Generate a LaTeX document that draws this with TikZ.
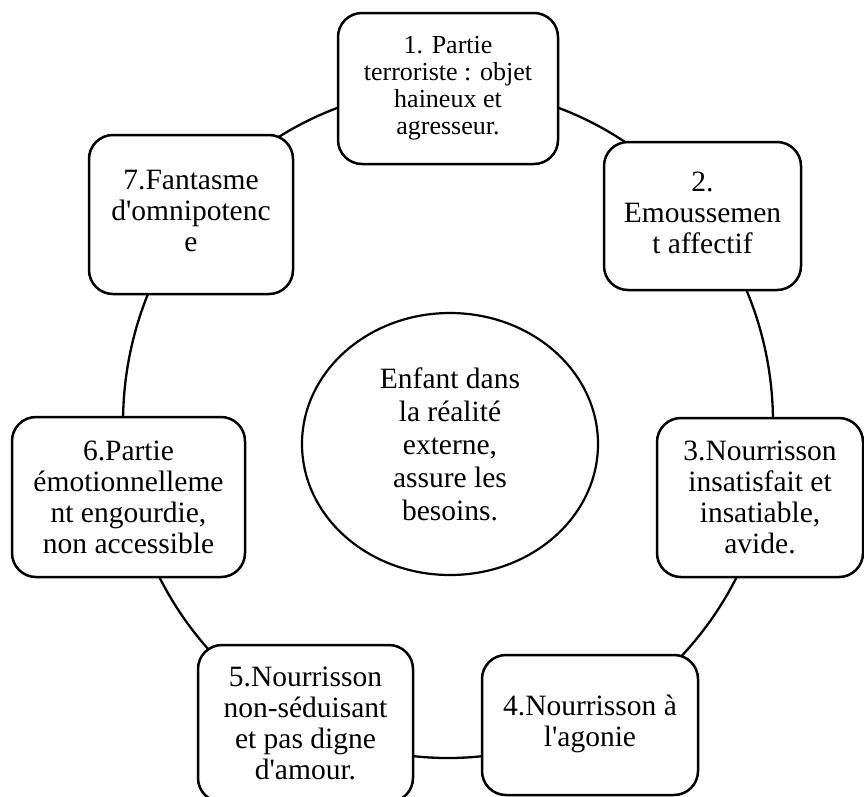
\documentclass[tikz,border=0pt]{standalone}
\usepackage{fontspec}
\setmainfont{Liberation Serif}[Ligatures=TeXOff]
\usetikzlibrary{shapes.geometric}
\begin{document}
\begin{tikzpicture}[x=1pt,y=-1pt,
  stepbox/.style={draw=black, line width=2.5pt, rounded corners=24pt, fill=white,
    align=center, inner sep=0pt, font=\fontsize{29.5}{31}\selectfont},
  hub/.style={draw=black, line width=2.2pt, ellipse, fill=white, align=center,
    inner sep=0pt, font=\fontsize{29.5}{33}\selectfont},
  ring/.style={draw=black, line width=2.3pt}]
\useasboundingbox (0,0) rectangle (864,796);
\coordinate (ringc) at (448,423);
\draw[ring] (ringc) ellipse [x radius=325, y radius=335];
\node[stepbox, minimum width=220pt, minimum height=151pt, font=\fontsize{26}{27}\selectfont] (b1) at (448,88.5)
  {1. Partie\\terroriste : objet\\haineux et\\agresseur.};
\node[stepbox, minimum width=197pt, minimum height=148pt] (b2) at (702.5,216)
  {\raisebox{5pt}{\begin{tabular}{@{}c@{}}2.\\Emoussemen\\t affectif\end{tabular}}};
\node[stepbox, minimum width=206pt, minimum height=159pt] (b3) at (760,497.5)
  {3.Nourrisson\\insatisfait et\\insatiable,\\avide.};
\node[stepbox, minimum width=216pt, minimum height=140pt] (b4) at (590,725)
  {\raisebox{4pt}{\begin{tabular}{@{}c@{}}4.Nourrisson à\\l'agonie\end{tabular}}};
\node[stepbox, minimum width=215pt, minimum height=157pt] (b5) at (305.5,723.5)
  {5.Nourrisson\\non-séduisant\\et pas digne\\d'amour.};
\node[stepbox, minimum width=233pt, minimum height=160pt] (b6) at (128.5,497)
  {6.Partie\\émotionnelleme\\nt engourdie,\\non accessible};
\node[stepbox, minimum width=204pt, minimum height=159pt] (b7) at (191,214.5)
  {\raisebox{5pt}{\begin{tabular}{@{}c@{}}7.Fantasme\\d'omnipotenc\\e\end{tabular}}};
\node[hub, minimum width=296pt, minimum height=262pt] (hub) at (450,444)
  {Enfant dans\\la réalité\\externe,\\assure les\\besoins.};
\end{tikzpicture}
\end{document}
